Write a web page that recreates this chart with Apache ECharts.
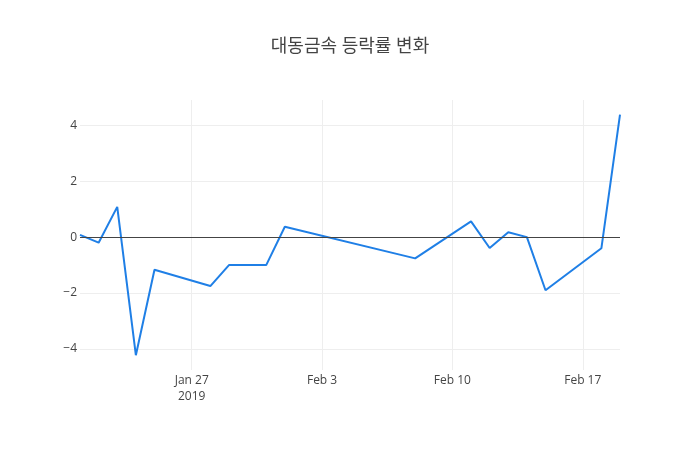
<!DOCTYPE html>
<html>
<head>
<meta charset="utf-8">
<script src="https://cdn.jsdelivr.net/npm/echarts@6/dist/echarts.min.js"></script>
<style>html,body{margin:0;padding:0;background:#fff;}#chart{width:700px;height:450px;}</style>
</head>
<body>
<div id="chart"></div>
<script>
const titleText = '대동금속 등락률 변화';
const dates = ['2019-01-21','2019-01-22','2019-01-23','2019-01-24','2019-01-25','2019-01-28','2019-01-29','2019-01-31','2019-02-01','2019-02-08','2019-02-11','2019-02-12','2019-02-13','2019-02-14','2019-02-15','2019-02-18','2019-02-19'];
const values = [0.08,-0.2,1.08,-4.22,-1.17,-1.75,-1.0,-1.0,0.37,-0.76,0.56,-0.39,0.17,0.0,-1.9,-0.4,4.38];
const xTickDates = ['2019-01-27','2019-02-03','2019-02-10','2019-02-17'];
const yTicks = [-4,-2,0,2,4];

function ts(s){const p=s.split('-').map(Number);return Date.UTC(p[0],p[1]-1,p[2]);}
const months=['Jan','Feb','Mar','Apr','May','Jun','Jul','Aug','Sep','Oct','Nov','Dec'];
const xTicks = xTickDates.map(ts);
const font = '"Open Sans", "Noto Sans CJK KR", sans-serif';

const chart = echarts.init(document.getElementById('chart'), null, {renderer:'canvas'});
chart.setOption({
  animation:false,
  backgroundColor:'#fff',
  title:{text:titleText,left:'center',top:33,textStyle:{fontFamily:font,fontSize:18,fontWeight:'normal',color:'#444'}},
  grid:{left:80,right:80,top:100,bottom:80,containLabel:false},
  xAxis:{
    type:'value',
    min:ts(dates[0]),max:ts(dates[dates.length-1]),
    axisLine:{show:false},
    axisTick:{show:false,customValues:xTicks},
    splitLine:{show:true,customValues:xTicks,lineStyle:{color:'#eee',width:1}},
    axisLabel:{customValues:xTicks,color:'#444',fontFamily:font,fontSize:12,margin:3,lineHeight:16,
      formatter:function(v){const d=new Date(v);let s=months[d.getUTCMonth()]+' '+d.getUTCDate();if(v===xTicks[0])s+='\n'+d.getUTCFullYear();return s;}}
  },
  yAxis:{
    type:'value',min:-4.75,max:4.9,
    axisLine:{show:false},
    axisTick:{show:false,customValues:yTicks},
    splitLine:{show:true,customValues:yTicks,lineStyle:{color:'#eee',width:1}},
    axisLabel:{customValues:yTicks,color:'#444',fontFamily:font,fontSize:12,margin:3,
      formatter:function(v){return v<0?'\u2212'+Math.abs(v):String(v);}}
  },
  series:[{
    type:'line',
    data:dates.map((d,i)=>[ts(d),values[i]]),
    showSymbol:false,
    lineStyle:{color:'#1f7fe6',width:2},
    itemStyle:{color:'#1f7fe6'},
    markLine:{silent:true,symbol:'none',label:{show:false},lineStyle:{color:'#444',width:1,type:'solid'},data:[{yAxis:0}]},
    z:3
  }]
});
</script>
</body>
</html>
